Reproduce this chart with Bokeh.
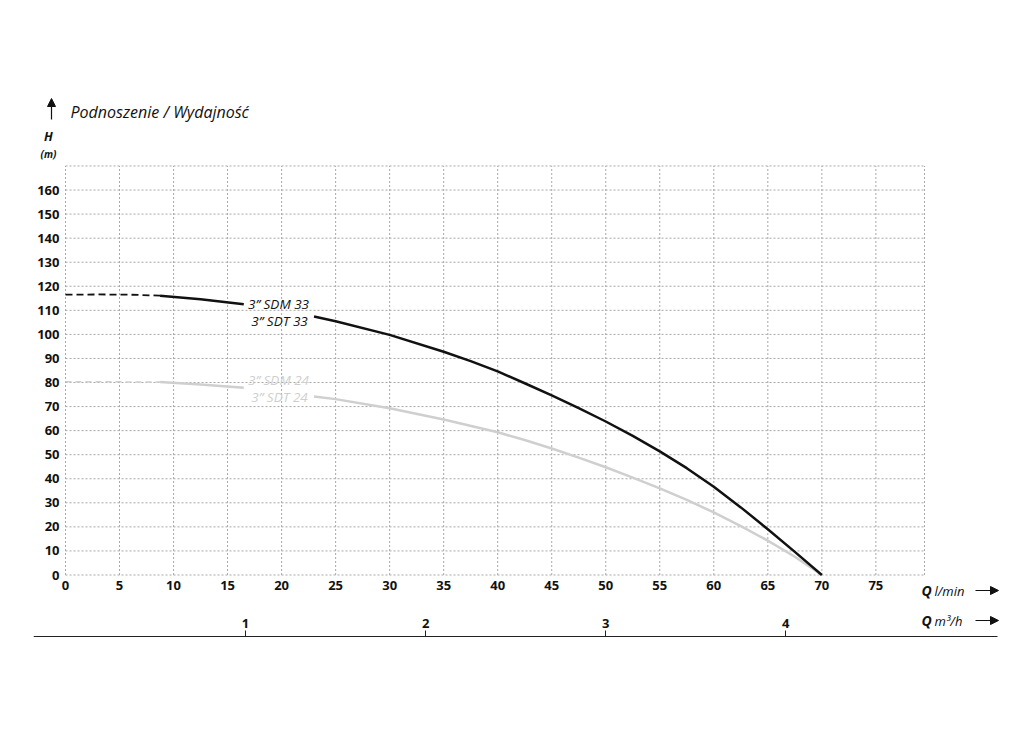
from bokeh.plotting import figure
from bokeh.models import Range1d, FixedTicker, Label, LinearAxis, Arrow, NormalHead
from bokeh.embed import file_html
from bokeh.resources import INLINE

NAN = float("nan")

# ---------------- data ----------------
q_ticks = [0, 5, 10, 15, 20, 25, 30, 35, 40, 45, 50, 55, 60, 65, 70, 75]
h_ticks = [0, 10, 20, 30, 40, 50, 60, 70, 80, 90, 100, 110, 120, 130, 140, 150, 160]
m3h_ticks = [1, 2, 3, 4]

series_names = ["3” SDM 33", "3” SDT 33", "3” SDM 24", "3” SDT 24"]

sdm33_dash_q = [0.0, 3.0, 6.0, 8.75]
sdm33_dash_h = [116.5, 116.6, 116.5, 116.1]
sdm33_q = [8.75, 12.5, 16.5, NAN, 23.0, 25.0, 30.0, 35.0, 37.5, 40.0, 42.5, 45.0, 47.5,
           50.0, 52.5, 55.0, 57.5, 60.0, 62.5, 65.0, 67.5, 70.0]
sdm33_h = [116.1, 114.6, 112.5, NAN, 107.4, 105.5, 99.8, 92.8, 88.9, 84.6, 79.7, 74.7, 69.4,
           63.8, 57.8, 51.4, 44.4, 36.7, 28.1, 19.0, 9.6, 0.0]

sdm24_dash_q = [0.0, 4.0, 8.75]
sdm24_dash_h = [80.3, 80.3, 80.2]
sdm24_q = [8.75, 12.5, 16.5, NAN, 23.0, 25.0, 30.0, 35.0, 40.0, 42.5, 45.0, 47.5, 50.0, 52.5,
           55.0, 57.5, 60.0, 62.5, 65.0, 67.5, 70.0]
sdm24_h = [80.2, 79.2, 77.8, NAN, 74.2, 73.1, 69.3, 64.6, 59.3, 56.1, 52.6, 48.8, 44.8, 40.5,
           36.0, 31.2, 26.0, 20.3, 14.3, 7.6, 0.0]

Q_MAX = 79.5          # right edge of the grid (l/min)
H_MAX = 170           # top edge of the grid (m)
LMIN_PER_M3H = 1000.0 / 60.0

# ---------------- layout ----------------
W, H = 1000, 700
ML, MR, MT, MB = 33, 0, 40, 40
X0_PX, PX_PER_Q = 65.0, 10.805     # screen position of Q=0, px per l/min
Y0_PX, PX_PER_H = 574.5, 2.406     # screen position of H=0, px per m


def dx(px):
    return (px - X0_PX) / PX_PER_Q


def dy(py):
    return (Y0_PX - py) / PX_PER_H


x_start, x_end = dx(ML), dx(W - MR)
y_start, y_end = dy(H - MB), dy(MT)

FONT = "Open Sans"
GRID_COLOR = "#a8a8a8"
BLACK = "#111111"
GRAY = "#cfcfcf"

p = figure(width=W, height=H, output_backend="svg", toolbar_location=None,
           x_range=Range1d(x_start, x_end), y_range=Range1d(y_start, y_end),
           min_border_left=ML, min_border_right=MR, min_border_top=MT, min_border_bottom=MB,
           background_fill_color="white", border_fill_color="white")
p.outline_line_color = None
p.grid.visible = False


def style_axis(ax, ticks):
    ax.ticker = FixedTicker(ticks=ticks)
    ax.minor_tick_line_color = None
    ax.major_label_text_font = FONT
    ax.major_label_text_font_style = "bold"
    ax.major_label_text_font_size = "13px"
    ax.major_label_text_color = BLACK


xa = p.xaxis[0]
style_axis(xa, q_ticks)
xa.fixed_location = 0
xa.axis_line_color = None
xa.major_tick_line_color = None
xa.major_tick_in = 0
xa.major_tick_out = 0
xa.major_label_standoff = 6

ya = p.yaxis[0]
style_axis(ya, h_ticks)
ya.fixed_location = 0
ya.axis_line_color = None
ya.major_tick_line_color = None
ya.major_tick_in = 0
ya.major_tick_out = 0
ya.major_label_standoff = 6

# secondary flow axis, m3/h
p.extra_x_ranges = {"m3h": Range1d(x_start / LMIN_PER_M3H, x_end / LMIN_PER_M3H)}
ma = LinearAxis(x_range_name="m3h")
style_axis(ma, m3h_ticks)
ma.fixed_location = dy(636)
ma.bounds = (dx(33) / LMIN_PER_M3H, dx(997) / LMIN_PER_M3H)
ma.axis_line_color = "#222222"
ma.axis_line_width = 1
ma.major_tick_line_color = "#222222"
ma.major_tick_out = 6
ma.major_tick_in = 0
ma.major_label_standoff = 3
p.add_layout(ma, "above")

# dotted grid (drawn from the tick values)
vx = q_ticks + [Q_MAX]
hy = h_ticks + [H_MAX]
p.segment(x0=vx, y0=[0] * len(vx), x1=vx, y1=[H_MAX] * len(vx),
          line_color=GRID_COLOR, line_dash="2 2", line_width=1)
p.segment(x0=[0] * len(hy), y0=hy, x1=[Q_MAX] * len(hy), y1=hy,
          line_color=GRID_COLOR, line_dash="2 2", line_width=1)

# curves
p.line(sdm24_dash_q, sdm24_dash_h, line_color=GRAY, line_width=1.5, line_dash="6 4")
p.line(sdm24_q, sdm24_h, line_color=GRAY, line_width=2.5, line_join="round")
p.line(sdm33_dash_q, sdm33_dash_h, line_color=BLACK, line_width=1.8, line_dash="7 4")
p.line(sdm33_q, sdm33_h, line_color=BLACK, line_width=2.5, line_join="round")


def lab(px, py, text, size="13px", style="italic", color=BLACK, align="center"):
    p.add_layout(Label(x=dx(px), y=dy(py), text=text, text_font=FONT, text_font_size=size,
                       text_font_style=style, text_color=color, text_align=align,
                       text_baseline="middle"))


def arrow(px0, py0, px1, py1):
    p.add_layout(Arrow(x_start=dx(px0), y_start=dy(py0), x_end=dx(px1), y_end=dy(py1),
                       line_color=BLACK, line_width=1.2,
                       end=NormalHead(size=8, fill_color=BLACK, line_color=BLACK, line_width=1)))


# curve labels
lab(278, 303, series_names[0], size="13.5px")
lab(279, 320, series_names[1], size="13.5px")
lab(278, 379, series_names[2], size="13.5px", color=GRAY)
lab(279, 396, series_names[3], size="13.5px", color=GRAY)

# axis titles
lab(70, 111, "Podnoszenie / Wydajność", size="16px", align="left")
arrow(51, 119, 51, 98)
lab(48, 136, "H", size="12.5px", style="bold italic")
lab(48, 153, "(m)", size="10px", style="bold italic")

lab(921, 590, "Q", size="14px", style="bold italic", align="left")
lab(934, 590, "l/min", size="13px", align="left")
arrow(975, 590, 998, 590)

lab(921, 620, "Q", size="14px", style="bold italic", align="left")
lab(934, 620, "m³/h", size="13px", align="left")
arrow(975, 620, 998, 620)

open("out.html", "w").write(file_html(p, INLINE))
